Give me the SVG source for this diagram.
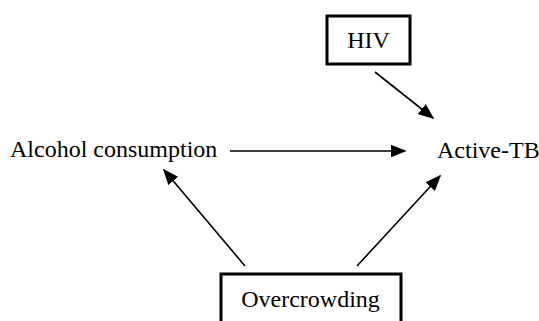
<svg xmlns="http://www.w3.org/2000/svg" width="539" height="321" viewBox="0 0 539 321">
<defs>
<style>
text{font-family:"Liberation Serif","Times New Roman",serif;font-size:24px;fill:#000}
.box{fill:#fff;stroke:#000;stroke-width:3}
.edge{stroke:#000;stroke-width:1.6;fill:none;marker-end:url(#ah)}
</style>
<marker id="ah" markerWidth="10" markerHeight="8" refX="9" refY="4" orient="auto" markerUnits="strokeWidth">
<path d="M0,0 L10,4 L0,8 Z" fill="#000"/>
</marker>
</defs>
<rect width="539" height="321" fill="#fff"/>
<g id="connectors">
<line class="edge" x1="375" y1="72" x2="433" y2="118"/>
<line class="edge" x1="230" y1="151" x2="405" y2="151"/>
<line class="edge" x1="245" y1="266" x2="164" y2="170"/>
<line class="edge" x1="357" y1="266" x2="440" y2="176"/>
</g>
<g id="hiv">
<rect class="box" x="327" y="16" width="83" height="48"/>
<text x="368.5" y="48" text-anchor="middle">HIV</text>
</g>
<g id="active-tb">
<text x="437" y="158">Active-TB</text>
</g>
<g id="alcohol">
<text x="10" y="157">Alcohol consumption</text>
</g>
<g id="overcrowding">
<rect class="box" x="221" y="274" width="180" height="60"/>
<text x="310.5" y="307" text-anchor="middle">Overcrowding</text>
</g>
</svg>
